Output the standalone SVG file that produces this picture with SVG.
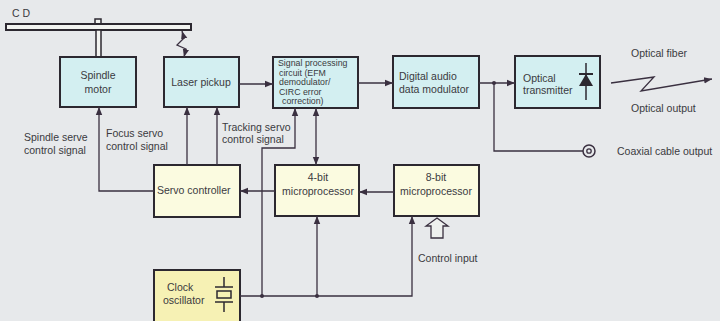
<svg xmlns="http://www.w3.org/2000/svg" width="720" height="321" viewBox="0 0 720 321">
<defs>
<style>
text{font-family:"Liberation Sans",Arial,sans-serif;font-size:10.5px;fill:#3a3a40}
.sm{font-size:8.8px}
.box{stroke:#2c2830;stroke-width:2}
.up{fill:#d3eff1}
.lo{fill:#fbfbe0}
.ck{fill:#f6f1b4}
.ln{fill:none;stroke:#3a3040;stroke-width:1.3}
.dot{fill:#3a3040}
</style>
<marker id="a" markerUnits="userSpaceOnUse" markerWidth="9" markerHeight="8" refX="8" refY="4" orient="auto-start-reverse"><path d="M0,0.8 L8,4 L0,7.2 Z" fill="#3a3040"/></marker>
</defs>
<rect width="720" height="321" fill="#e7e9eb"/>

<g id="cd">
<text x="12" y="17">C D</text>
<rect x="95" y="19" width="6" height="5" fill="#f2f3f0" stroke="#2c2830" stroke-width="1.5"/>
<rect x="6" y="24" width="185" height="6" fill="#f2f3f0" stroke="#2c2830" stroke-width="2"/>
<rect x="96" y="30" width="5" height="27" fill="#f2f3f0" stroke="#2c2830" stroke-width="1.5"/>
</g>

<g id="spindle">
<rect class="box up" x="60" y="57" width="76" height="50"/>
<text x="98" y="79" text-anchor="middle">Spindle</text>
<text x="98" y="93" text-anchor="middle">motor</text>
</g>
<g id="laser">
<rect class="box up" x="164" y="57" width="75" height="50"/>
<text x="201" y="86" text-anchor="middle">Laser pickup</text>
</g>
<g id="sigproc">
<rect class="box up" x="273" y="57" width="85" height="51"/>
<text class="sm" x="278" y="66">Signal processing</text>
<text class="sm" x="279" y="75.6">circuit (EFM</text>
<text class="sm" x="279" y="85.2">demodulator/</text>
<text class="sm" x="279" y="94.8">CIRC error</text>
<text class="sm" x="282" y="104.4">correction)</text>
</g>
<g id="modulator">
<rect class="box up" x="393" y="56" width="86" height="52"/>
<text x="399" y="80">Digital audio</text>
<text x="399" y="93">data modulator</text>
</g>
<g id="transmitter">
<rect class="box up" x="515" y="56" width="85" height="52"/>
<text x="523" y="82">Optical</text>
<text x="523" y="94">transmitter</text>
<line x1="586" y1="63" x2="586" y2="100" stroke="#2c2830" stroke-width="1.5"/>
<line x1="579" y1="74" x2="593" y2="74" stroke="#2c2830" stroke-width="2"/>
<path d="M586,74 L593,86 L579,86 Z" fill="#2c2830"/>
</g>

<g id="servo">
<rect class="box lo" x="154" y="165" width="86" height="52"/>
<text x="157" y="194">Servo controller</text>
</g>
<g id="mp4">
<rect class="box lo" x="275" y="165" width="84" height="51"/>
<text x="318" y="181" text-anchor="middle">4-bit</text>
<text x="318" y="195" text-anchor="middle">microprocessor</text>
</g>
<g id="mp8">
<rect class="box lo" x="394" y="165" width="85" height="51"/>
<text x="436" y="181" text-anchor="middle">8-bit</text>
<text x="436" y="195" text-anchor="middle">microprocessor</text>
</g>
<g id="clock">
<rect class="box ck" x="154" y="270" width="86" height="55"/>
<text x="167" y="291">Clock</text>
<text x="163" y="304">oscillator</text>
<g stroke="#2c2830" stroke-width="1.5" fill="none">
<line x1="224" y1="277" x2="224" y2="287"/>
<line x1="215" y1="287" x2="233" y2="287"/>
<rect x="217" y="291" width="14" height="7"/>
<line x1="215" y1="302" x2="233" y2="302"/>
<line x1="224" y1="302" x2="224" y2="312"/>
</g>
</g>

<g id="connectors">
<polyline class="ln" points="184,57 186,49 177,45 184,38 182,31" marker-start="url(#a)" marker-end="url(#a)"/>
<line class="ln" x1="239" y1="84" x2="273" y2="84" marker-end="url(#a)"/>
<line class="ln" x1="358" y1="83" x2="393" y2="83" marker-end="url(#a)"/>
<line class="ln" x1="479" y1="83" x2="515" y2="83" marker-end="url(#a)"/>
<circle class="dot" cx="494" cy="83" r="2"/>
<polyline class="ln" points="494,83 494,151 583,151"/>
<circle cx="589" cy="151" r="6" fill="none" stroke="#3a3040" stroke-width="1.5"/>
<circle cx="589" cy="151" r="2.2" fill="none" stroke="#3a3040" stroke-width="1.3"/>
<polyline class="ln" points="611,83 654,77 641,91 712,79" marker-end="url(#a)"/>
<polyline class="ln" points="154,191 99,191 99,107" marker-end="url(#a)"/>
<line class="ln" x1="187" y1="165" x2="187" y2="107" marker-end="url(#a)"/>
<line class="ln" x1="217" y1="165" x2="217" y2="107" marker-end="url(#a)"/>
<line class="ln" x1="275" y1="191" x2="240" y2="191" marker-end="url(#a)"/>
<line class="ln" x1="394" y1="192" x2="359" y2="192" marker-end="url(#a)"/>
<line class="ln" x1="316" y1="108" x2="316" y2="165" marker-start="url(#a)" marker-end="url(#a)"/>
<polyline class="ln" points="240,296 412,296 412,216" marker-end="url(#a)"/>
<polyline class="ln" points="262,296 262,148 295,148 295,108" marker-end="url(#a)"/>
<line class="ln" x1="317" y1="296" x2="317" y2="216" marker-end="url(#a)"/>
<circle class="dot" cx="262" cy="296" r="2"/>
<circle class="dot" cx="317" cy="296" r="2"/>
<path d="M437,218 L448,226 L443,226 L443,238 L431,238 L431,226 L426,226 Z" fill="#eef0ee" stroke="#3a3040" stroke-width="1.3"/>
</g>

<g id="labels">
<text x="631" y="57">Optical fiber</text>
<text x="631" y="112">Optical output</text>
<text x="617" y="155">Coaxial cable output</text>
<text x="24" y="141">Spindle serve</text>
<text x="24" y="154">control signal</text>
<text x="106" y="137">Focus servo</text>
<text x="106" y="150">control signal</text>
<text x="222" y="131">Tracking servo</text>
<text x="222" y="143">control signal</text>
<text x="418" y="262">Control input</text>
</g>
</svg>
